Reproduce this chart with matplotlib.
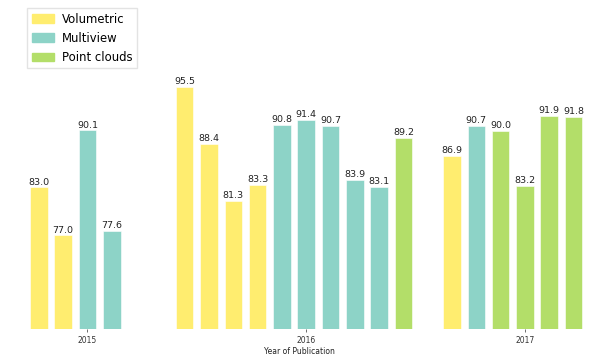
import matplotlib
matplotlib.use('Agg')
import matplotlib.pyplot as plt
from matplotlib.patches import Patch

# accuracy values per year, with the representation of each method
years = ['2015', '2016', '2017']
acc_2015 = [83.0, 77.0, 90.1, 77.6]
kind_2015 = ['Volumetric', 'Volumetric', 'Multiview', 'Multiview']
acc_2016 = [95.5, 88.4, 81.3, 83.3, 90.8, 91.4, 90.7, 83.9, 83.1, 89.2]
kind_2016 = ['Volumetric'] * 4 + ['Multiview'] * 5 + ['Point clouds']
acc_2017 = [86.9, 90.7, 90.0, 83.2, 91.9, 91.8]
kind_2017 = ['Volumetric', 'Multiview'] + ['Point clouds'] * 4

kinds = ['Volumetric', 'Multiview', 'Point clouds']
colors = {'Volumetric': '#ffed6f', 'Multiview': '#8dd3c7', 'Point clouds': '#b3de69'}

# where each year's group starts on the x axis
group_start = [0, 6, 17]

fig = plt.figure(figsize=(5.99, 3.60), dpi=100)
ax = fig.add_axes([0, 0.0853, 1, 0.9147])

groups = [(acc_2015, kind_2015), (acc_2016, kind_2016), (acc_2017, kind_2017)]
ticks = []
for start, (vals, kk) in zip(group_start, groups):
    xs = [start + i for i in range(len(vals))]
    ax.bar(xs, vals, width=0.72, bottom=0,
           color=[colors[k] for k in kk], edgecolor='white', linewidth=0.4)
    for x, v in zip(xs, vals):
        ax.text(x, v + 0.1, '%.1f' % v, ha='center', va='bottom',
                fontsize=6.8, color='#222222')
    ticks.append(xs[len(xs) // 2])

ax.set_xlim(-1.6, 23.05)
ax.set_ylim(65.3, 106.36)
ax.set_xticks(ticks)
ax.set_xticklabels(years, fontsize=5.5, color='#333333')
ax.set_yticks([])
ax.tick_params(axis='x', length=2.5, width=0.6, color='#555555', pad=2)
for s in ax.spines.values():
    s.set_visible(False)
ax.set_xlabel('Year of Publication', fontsize=5.5, color='#222222', labelpad=2)

handles = [Patch(color=colors[k], label=k) for k in kinds]
ax.legend(handles=handles, loc='upper left', bbox_to_anchor=(0.045, 0.976),
          fontsize=8.4, frameon=True, fancybox=False, edgecolor='#dddddd',
          borderaxespad=0, handlelength=1.9, handleheight=0.7,
          labelspacing=0.52, borderpad=0.4, handletextpad=0.7)

plt.savefig('out.png', dpi=100)
